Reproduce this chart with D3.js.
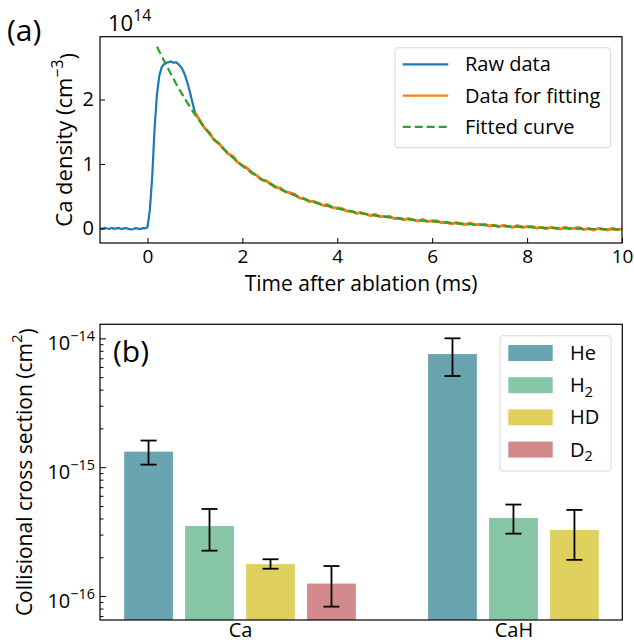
<!DOCTYPE html>
<html>
<head>
<meta charset="utf-8">
<script src="https://cdn.jsdelivr.net/npm/d3@7"></script>
<style>
    body { margin: 0; background: #fff; }
    svg { font-family: "Open Sans", "Liberation Sans", Arial, sans-serif; }
</style>
</head>
<body>
<svg id="chart" width="634" height="644"></svg>
<script>
// ---- panel (a): Ca density after ablation, units of 1e14 cm^-3 ----
// raw trace, -1.00 .. 0.95 ms every 0.05 ms
const rawEarly = [
    0.004, -0.006, 0.008, 0.000, -0.005, 0.010, -0.004, 0.003, 0.009, -0.010,
    0.002, 0.007, -0.006, -0.012, -0.008, 0.004, -0.002, -0.009, 0.006, 0.001,
    0.02, 0.28, 0.80, 1.55, 2.08, 2.37, 2.50, 2.55, 2.57, 2.58,
    2.59, 2.57, 2.58, 2.55, 2.51, 2.45, 2.36, 2.24, 2.10, 1.95
];
// raw trace, 1.0 .. 10.0 ms every 0.1 ms
const rawLate = [
    1.80, 1.68, 1.56, 1.49, 1.375, 1.325, 1.24, 1.158, 1.118, 1.03,
    0.978, 0.935, 0.86, 0.825, 0.755, 0.74, 0.69, 0.638, 0.628, 0.573,
    0.553, 0.53, 0.475, 0.465, 0.42, 0.422, 0.39, 0.358, 0.368, 0.325,
    0.318, 0.31, 0.27, 0.27, 0.235, 0.247, 0.225, 0.20, 0.218, 0.185,
    0.188, 0.187, 0.155, 0.162, 0.135, 0.152, 0.135, 0.115, 0.138, 0.11,
    0.118, 0.119, 0.088, 0.097, 0.072, 0.091, 0.076, 0.059, 0.084, 0.056,
    0.065, 0.068, 0.039, 0.05, 0.026, 0.047, 0.034, 0.018, 0.045, 0.019,
    0.029, 0.033, 0.005, 0.017, -0.005, 0.018, 0.006, -0.008, 0.02, -0.005,
    0.006, 0.012, -0.015, -0.001, -0.023, 0.001, -0.011, -0.024, 0.005, -0.019,
    -0.007
];
const rawEarlyStart = -1, rawEarlyStep = 0.05;
const rawLateStart = 1, rawLateStep = 0.1;
const fitFrom = 1.0;   // fitting window starts here (ms)

// fitted curve, 0.2 .. 10.0 ms every 0.2 ms
const fitCurve = [
    2.82, 2.53, 2.25, 2.00, 1.77, 1.57, 1.39, 1.24, 1.10, 0.97,
    0.87, 0.77, 0.69, 0.61, 0.545, 0.485, 0.435, 0.39, 0.35, 0.31,
    0.28, 0.25, 0.225, 0.20, 0.18, 0.165, 0.15, 0.135, 0.12, 0.11,
    0.098, 0.087, 0.076, 0.066, 0.057, 0.049, 0.041, 0.034, 0.027, 0.021,
    0.015, 0.010, 0.006, 0.002, -0.002, -0.005, -0.008, -0.011, -0.013, -0.015
];
const fitStart = 0.2, fitStep = 0.2;

const timeDomain = [-1, 10];
const densityDomain = [-0.225, 2.975];
const timeTicks = [0, 2, 4, 6, 8, 10];
const densityTicks = [0, 1, 2];
const traceNames = ["Raw data", "Data for fitting", "Fitted curve"];

// ---- panel (b): collisional cross sections, cm^2 ----
const molecules = ["Ca", "CaH"];
const buffers = ["He", "H2", "HD", "D2"];
const sectionCa = [1.32e-15, 3.50e-16, 1.77e-16, 1.25e-16];
const sectionCaLow = [1.047e-15, 2.25e-16, 1.63e-16, 8.28e-17];
const sectionCaHigh = [1.61e-15, 4.74e-16, 1.93e-16, 1.71e-16];
const sectionCaH = [7.55e-15, 4.04e-16, 3.26e-16];
const sectionCaHLow = [5.10e-15, 3.05e-16, 1.91e-16];
const sectionCaHHigh = [1.0e-14, 5.13e-16, 4.66e-16];
const sectionDomain = [6.52e-17, 1.285e-14];
const sectionExps = [-16, -15, -14];

const svg = d3.select("#chart");
const FS = 21;       // axis labels
const TICK_FS = 20;  // tick labels
const LEG_FS = 20;   // legend entries

// text like 10^k or H_2 built with tspans
function richText (sel, base, sup, sub) {
    sel.text(base);
    if (sup) sel.append("tspan").attr("dy", "-0.6em").attr("font-size", "0.72em").text(sup);
    if (sub) sel.append("tspan").attr("dy", "0.3em").attr("font-size", "0.72em").text(sub);
}

class DecayPlot {
    constructor (svg, configs) {
        this.svg = svg;
        this.config = Object.assign({}, {
            left: 100, top: 36.7, right: 622, bottom: 243
        }, configs);
        this.color = {raw: "#1f77b4", fit: "#ff7f0e", curve: "#2ca02c"};
        this.handleData();
        this.initAxis();
        this.draw();
        this.setAxis();
        this.setLegend();
    }

    handleData () {
        let raw = rawEarly.map((v, i) => [rawEarlyStart + i * rawEarlyStep, v])
            .concat(rawLate.map((v, i) => [rawLateStart + i * rawLateStep, v]));
        this.raw = raw;
        this.fitData = raw.filter(d => d[0] >= fitFrom - 1e-9);
        this.curve = fitCurve.map((v, i) => [fitStart + i * fitStep, v]);
    }

    initAxis () {
        const c = this.config;
        this.x = d3.scaleLinear().domain(timeDomain).range([c.left, c.right]);
        this.y = d3.scaleLinear().domain(densityDomain).range([c.bottom, c.top]);
    }

    draw () {
        const c = this.config;
        this.svg.append("clipPath").attr("id", "clipA")
            .append("rect")
            .attr("x", c.left).attr("y", c.top)
            .attr("width", c.right - c.left).attr("height", c.bottom - c.top);

        const line = d3.line().x(d => this.x(d[0])).y(d => this.y(d[1]));
        const g = this.svg.append("g").attr("clip-path", "url(#clipA)").attr("fill", "none");

        g.append("path").datum(this.raw).attr("d", line)
            .attr("stroke", this.color.raw).attr("stroke-width", 2.2);
        g.append("path").datum(this.fitData).attr("d", line)
            .attr("stroke", this.color.fit).attr("stroke-width", 2.8);
        g.append("path").datum(this.curve).attr("d", line.curve(d3.curveMonotoneX))
            .attr("stroke", this.color.curve).attr("stroke-width", 2.2)
            .attr("stroke-dasharray", "8,4");
    }

    setAxis () {
        const c = this.config;
        this.svg.append("g")
            .attr("transform", "translate(0," + c.bottom + ")")
            .call(d3.axisBottom(this.x).tickValues(timeTicks).tickFormat(d3.format("d"))
                .tickSizeInner(-5).tickSizeOuter(0).tickPadding(7))
            .call(g => g.select(".domain").remove())
            .attr("font-size", 19).attr("font-family", null);

        this.svg.append("g")
            .attr("transform", "translate(" + c.left + ",0)")
            .call(d3.axisLeft(this.y).tickValues(densityTicks).tickFormat(d3.format("d"))
                .tickSizeInner(-5).tickSizeOuter(0).tickPadding(6))
            .call(g => g.select(".domain").remove())
            .attr("font-size", TICK_FS).attr("font-family", null);

        this.svg.append("rect")
            .attr("x", c.left).attr("y", c.top)
            .attr("width", c.right - c.left).attr("height", c.bottom - c.top)
            .attr("fill", "none").attr("stroke", "#000").attr("stroke-width", 1.2);

        // offset text and labels
        this.svg.append("text").attr("x", 108).attr("y", 30.8).attr("font-size", 22)
            .call(richText, "10", "14");
        this.svg.append("text").attr("x", (c.left + c.right) / 2).attr("y", 291)
            .attr("text-anchor", "middle").attr("font-size", FS)
            .text("Time after ablation (ms)");
        this.svg.append("text")
            .attr("transform", "translate(72," + (c.top + c.bottom) / 2 + ") rotate(-90)")
            .attr("text-anchor", "middle").attr("font-size", 22)
            .call(sel => {
                sel.text("Ca density (cm");
                sel.append("tspan").attr("dy", "-0.6em").attr("font-size", "0.72em").text("−3");
                sel.append("tspan").attr("dy", "0.6em").attr("font-size", 22).text(")");
            });
        this.svg.append("text").attr("x", 7).attr("y", 41).attr("font-size", 30).text("(a)");
    }

    setLegend () {
        const lg = this.svg.append("g").attr("transform", "translate(395,47.7)");
        lg.append("rect").attr("width", 215.7).attr("height", 100).attr("rx", 3)
            .attr("fill", "#fff").attr("fill-opacity", 0.8)
            .attr("stroke", "#d6d6d6").attr("stroke-width", 1);

        const styles = [
            {color: this.color.raw, dash: null},
            {color: this.color.fit, dash: null},
            {color: this.color.curve, dash: "8,4"}
        ];
        const rows = lg.selectAll(".row").data(traceNames).enter().append("g")
            .attr("class", "row")
            .attr("transform", (d, i) => "translate(0," + (16.6 + i * 31.3) + ")");
        rows.append("line").attr("x1", 7.7).attr("x2", 53.3)
            .attr("stroke", (d, i) => styles[i].color).attr("stroke-width", 2.2)
            .attr("stroke-dasharray", (d, i) => styles[i].dash);
        rows.append("text").attr("x", 70).attr("y", 7).attr("font-size", LEG_FS).text(d => d);
    }
}

class SectionBar {
    constructor (svg, configs) {
        this.svg = svg;
        this.config = Object.assign({}, {
            left: 100, top: 324.3, right: 622.3, bottom: 620,
            step: 0.223, barRatio: 0.8
        }, configs);
        this.color = d3.scaleOrdinal().domain(buffers)
            .range(["#6aa4b0", "#86c5a5", "#e0d15f", "#d2898b"]);
        this.handleData();
        this.initAxis();
        this.draw();
        this.setAxis();
        this.setLegend();
    }

    handleData () {
        const groups = [
            {name: molecules[0], v: sectionCa, lo: sectionCaLow, hi: sectionCaHigh},
            {name: molecules[1], v: sectionCaH, lo: sectionCaHLow, hi: sectionCaHHigh}
        ];
        let bars = [];
        groups.forEach((g, gi) => {
            g.v.forEach((v, i) => {
                bars.push({
                    group: g.name, buffer: buffers[i],
                    pos: gi + (i - (g.v.length - 1) / 2) * this.config.step,
                    value: v, low: g.lo[i], high: g.hi[i]
                });
            });
        });
        this.bars = bars;
    }

    initAxis () {
        const c = this.config;
        this.x = d3.scaleLinear().domain([-0.512, 1.398]).range([c.left, c.right]);
        this.y = d3.scaleLog().domain(sectionDomain).range([c.bottom, c.top]);
        this.barWidth = this.x(c.step * c.barRatio) - this.x(0);
    }

    draw () {
        const c = this.config;
        const g = this.svg.append("g");
        g.selectAll(".bar_rect").data(this.bars).enter().append("rect")
            .attr("class", "bar_rect")
            .attr("x", d => this.x(d.pos) - this.barWidth / 2)
            .attr("y", d => this.y(d.value))
            .attr("width", this.barWidth)
            .attr("height", d => c.bottom - this.y(d.value))
            .attr("fill", d => this.color(d.buffer));

        const err = g.selectAll(".err").data(this.bars).enter().append("g")
            .attr("class", "err").attr("stroke", "#000").attr("stroke-width", 1.8);
        err.append("line")
            .attr("x1", d => this.x(d.pos)).attr("x2", d => this.x(d.pos))
            .attr("y1", d => this.y(d.low)).attr("y2", d => this.y(d.high));
        ["low", "high"].forEach(k => {
            err.append("line")
                .attr("x1", d => this.x(d.pos) - 8).attr("x2", d => this.x(d.pos) + 8)
                .attr("y1", d => this.y(d[k])).attr("y2", d => this.y(d[k]));
        });
    }

    setAxis () {
        const c = this.config;
        // minor ticks
        let minors = [];
        [-17, -16, -15].forEach(e => {
            for (let m = 2; m < 10; m++) minors.push(m * Math.pow(10, e));
        });
        minors = minors.filter(v => v > sectionDomain[0] && v < sectionDomain[1]);
        this.svg.append("g")
            .attr("transform", "translate(" + c.left + ",0)")
            .call(d3.axisLeft(this.y).tickValues(minors).tickFormat("")
                .tickSizeInner(-3.5).tickSizeOuter(0))
            .call(g => g.select(".domain").remove());

        this.svg.append("g")
            .attr("transform", "translate(" + c.left + ",0)")
            .call(d3.axisLeft(this.y).tickValues(sectionExps.map(e => Math.pow(10, e)))
                .tickSizeInner(-6).tickSizeOuter(0).tickPadding(5))
            .call(g => g.select(".domain").remove())
            .attr("font-size", TICK_FS).attr("font-family", null)
            .call(g => g.selectAll(".tick text")
                .attr("dy", "0.55em")
                .each(function (d, i) {
                    richText(d3.select(this), "10", "−" + (-sectionExps[i]));
                }));

        this.svg.append("g")
            .attr("transform", "translate(0," + c.bottom + ")")
            .call(d3.axisBottom(this.x).tickValues([0, 1]).tickFormat((d, i) => molecules[i])
                .tickSize(0).tickPadding(3))
            .call(g => g.select(".domain").remove())
            .attr("font-size", 20).attr("font-family", null);

        this.svg.append("rect")
            .attr("x", c.left).attr("y", c.top)
            .attr("width", c.right - c.left).attr("height", c.bottom - c.top)
            .attr("fill", "none").attr("stroke", "#000").attr("stroke-width", 1.2);

        this.svg.append("text")
            .attr("transform", "translate(31.5," + (c.top + c.bottom) / 2 + ") rotate(-90)")
            .attr("text-anchor", "middle").attr("font-size", FS)
            .call(sel => {
                sel.text("Collisional cross section (cm");
                sel.append("tspan").attr("dy", "-0.6em").attr("font-size", "0.72em").text("2");
                sel.append("tspan").attr("dy", "0.6em").attr("font-size", FS).text(")");
            });
        this.svg.append("text").attr("x", 113).attr("y", 362).attr("font-size", 30).text("(b)");
    }

    setLegend () {
        const lg = this.svg.append("g").attr("transform", "translate(500,335.7)");
        lg.append("rect").attr("width", 111).attr("height", 135.3).attr("rx", 3)
            .attr("fill", "#fff").attr("fill-opacity", 0.8)
            .attr("stroke", "#d6d6d6").attr("stroke-width", 1);

        const rows = lg.selectAll(".row").data(buffers).enter().append("g")
            .attr("class", "row")
            .attr("transform", (d, i) => "translate(0," + (17.3 + i * 32.2) + ")");
        rows.append("rect").attr("x", 8.3).attr("y", -8).attr("width", 44.4).attr("height", 16)
            .attr("fill", d => this.color(d));
        rows.append("text").attr("x", 70).attr("y", 7).attr("font-size", LEG_FS)
            .each(function (d) {
                const m = d.match(/^([A-Za-z]+?)(\d?)$/);
                richText(d3.select(this), m[1], null, m[2] || null);
            });
    }
}

new DecayPlot(svg);
new SectionBar(svg);
</script>
</body>
</html>
